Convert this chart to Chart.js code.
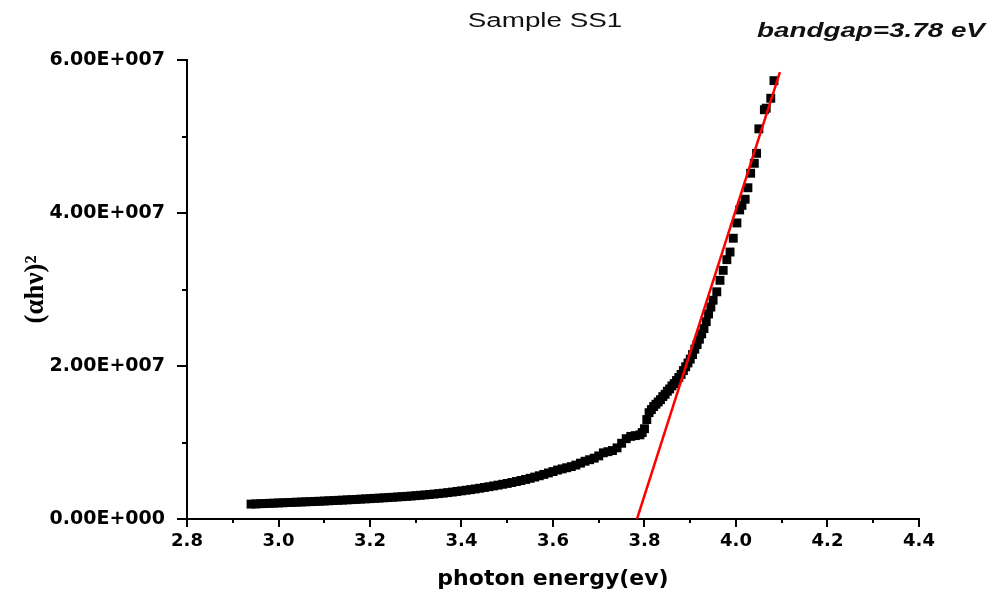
<!DOCTYPE html>
<html><head><meta charset="utf-8">
<script src="https://cdn.jsdelivr.net/npm/chart.js@4.4.0/dist/chart.umd.min.js"></script>
<style>html,body{margin:0;padding:0;background:#fff;}</style>
</head><body>
<canvas id="c" width="995" height="596"></canvas>
<script>
// ---- data ----
const energy = [
  2.94,2.95,2.96,2.97,2.98,2.99,3.00,3.01,3.02,3.03,3.04,3.05,3.06,3.07,3.08,3.09,
  3.10,3.11,3.12,3.13,3.14,3.15,3.16,3.17,3.18,3.19,3.20,3.21,3.22,3.23,3.24,3.25,
  3.26,3.27,3.28,3.29,3.30,3.31,3.32,3.33,3.34,3.35,3.36,3.37,3.38,3.39,3.40,3.41,
  3.42,3.43,3.44,3.45,3.46,3.47,3.48,3.49,3.50,3.51,3.52,3.53,3.54,3.55,3.56,3.57,
  3.58,3.59,3.60,3.61,3.62,3.63,3.64,3.65,3.66,3.67,3.68,3.69,3.70,3.71,3.72,3.73,
  3.74,3.75,3.76,3.77,3.78,3.79,3.795,3.80,3.805,3.81,3.815,3.82,3.825,3.83,3.835,
  3.84,3.845,3.85,3.855,3.86,3.865,3.87,3.875,3.88,3.885,3.89,3.895,3.90,3.905,
  3.91,3.915,3.92,3.925,3.93,3.935,3.94,3.945,3.95,3.958,3.965,3.972,3.98,3.987,
  3.994,4.002,4.008,4.013,4.02,4.026,4.032,4.04,4.045,4.05,4.062,4.066,4.076,4.083
];
const alphaHv2 = [
  1.95e6,1.97e6,2.00e6,2.02e6,2.05e6,2.07e6,2.10e6,2.12e6,2.15e6,2.17e6,2.20e6,2.22e6,2.25e6,2.27e6,2.30e6,2.32e6,
  2.35e6,2.38e6,2.41e6,2.44e6,2.47e6,2.50e6,2.53e6,2.56e6,2.60e6,2.63e6,2.66e6,2.70e6,2.73e6,2.77e6,2.80e6,2.84e6,
  2.88e6,2.92e6,2.96e6,3.00e6,3.05e6,3.10e6,3.15e6,3.20e6,3.26e6,3.32e6,3.38e6,3.45e6,3.52e6,3.60e6,3.68e6,3.76e6,
  3.84e6,3.93e6,4.02e6,4.12e6,4.22e6,4.32e6,4.43e6,4.54e6,4.65e6,4.77e6,4.90e6,5.03e6,5.17e6,5.32e6,5.48e6,5.65e6,
  5.83e6,6.02e6,6.20e6,6.40e6,6.55e6,6.70e6,6.85e6,7.05e6,7.30e6,7.55e6,7.75e6,7.95e6,8.25e6,8.65e6,8.80e6,8.95e6,
  9.30e6,9.90e6,10.5e6,10.8e6,10.9e6,11.0e6,11.3e6,11.8e6,13.0e6,13.9e6,14.3e6,14.7e6,15.0e6,15.3e6,15.6e6,
  16.0e6,16.3e6,16.7e6,17.0e6,17.4e6,17.7e6,18.1e6,18.5e6,18.9e6,19.4e6,19.9e6,20.4e6,20.9e6,21.5e6,
  22.2e6,22.8e6,23.5e6,24.2e6,24.9e6,25.8e6,26.8e6,27.7e6,28.6e6,29.7e6,31.2e6,32.5e6,33.9e6,34.9e6,
  36.7e6,38.7e6,40.4e6,41.0e6,41.8e6,43.3e6,45.2e6,46.5e6,47.8e6,51.0e6,53.5e6,53.7e6,55.0e6,57.3e6
];
const fitEnergy = [3.7836, 4.096];
const fitValue  = [0, 5.84e7];

const xTicks      = [2.8, 3.0, 3.2, 3.4, 3.6, 3.8, 4.0, 4.2, 4.4];
const xTickLabels = ['2.8','3.0','3.2','3.4','3.6','3.8','4.0','4.2','4.4'];
const xMinorTicks = [2.9, 3.1, 3.3, 3.5, 3.7, 3.9, 4.1, 4.3];
const yTicks      = [0, 2e7, 4e7, 6e7];
const yTickLabels = ['0.00E+000','2.00E+007','4.00E+007','6.00E+007'];
const yMinorTicks = [1e7, 3e7, 5e7];

const chartTitle = 'Sample SS1';
const gapNote    = 'bandgap=3.78 eV';
const xTitle     = 'photon energy(ev)';
const yTitle     = '(\u03B1h\u03BD)\u00B2';

// ---- chart ----
const points = energy.map((e, i) => ({x: e, y: alphaHv2[i]}));
const fitLine = fitEnergy.map((e, i) => ({x: e, y: fitValue[i]}));

const tickPlugin = {
  id: 'axisTicks',
  afterDraw(chart) {
    const {ctx, chartArea, scales: {x, y}} = chart;
    ctx.save();
    ctx.strokeStyle = '#000';
    ctx.lineWidth = 2;
    ctx.beginPath();
    xTicks.forEach(v => { const p = Math.round(x.getPixelForValue(v)); ctx.moveTo(p, chartArea.bottom); ctx.lineTo(p, chartArea.bottom + 8); });
    xMinorTicks.forEach(v => { const p = Math.round(x.getPixelForValue(v)); ctx.moveTo(p, chartArea.bottom); ctx.lineTo(p, chartArea.bottom + 4); });
    yTicks.forEach(v => { const p = Math.round(y.getPixelForValue(v)); ctx.moveTo(chartArea.left - 10, p); ctx.lineTo(chartArea.left, p); });
    yMinorTicks.forEach(v => { const p = Math.round(y.getPixelForValue(v)); ctx.moveTo(chartArea.left - 5, p); ctx.lineTo(chartArea.left, p); });
    ctx.stroke();

    // titles (horizontally stretched like the original export)
    const stretch = 1.39;
    ctx.fillStyle = '#111';
    ctx.textBaseline = 'alphabetic';
    ctx.font = '20px "Liberation Sans", Arial, sans-serif';
    let w = ctx.measureText(chartTitle).width;
    ctx.save();
    ctx.translate(545, 27);
    ctx.scale(stretch, 1);
    ctx.fillText(chartTitle, -w / 2, 0);
    ctx.restore();

    ctx.font = 'italic bold 20px "Liberation Sans", Arial, sans-serif';
    ctx.save();
    ctx.translate(757, 37);
    ctx.scale(stretch, 1);
    ctx.fillText(gapNote, 0, 0);
    ctx.restore();
    ctx.restore();
  }
};

new Chart(document.getElementById('c'), {
  type: 'scatter',
  data: {
    datasets: [
      {
        label: 'fit',
        data: fitLine,
        showLine: true,
        borderColor: '#ff0000',
        borderWidth: 2.5,
        pointRadius: 0,
        fill: false,
        order: 0
      },
      {
        label: 'Sample SS1',
        data: points,
        pointStyle: 'rect',
        pointRadius: 6.3,
        pointBackgroundColor: '#000',
        pointBorderWidth: 0,
        showLine: false,
        order: 1
      }
    ]
  },
  options: {
    responsive: false,
    animation: false,
    devicePixelRatio: 1,
    layout: { padding: { top: 60, right: 76, left: 0, bottom: 0 } },
    plugins: { legend: { display: false }, tooltip: { enabled: false }, title: { display: false } },
    scales: {
      x: {
        type: 'linear',
        min: 2.8, max: 4.4,
        afterBuildTicks: s => { s.ticks = xTicks.map(v => ({value: v})); },
        afterFit: s => { s.height = 77; },
        grid: { display: false, drawTicks: false },
        border: { display: true, color: '#000', width: 2 },
        ticks: {
          padding: 12,
          color: '#000',
          font: { family: '"DejaVu Sans", sans-serif', weight: 'bold', size: 18 },
          maxRotation: 0,
          callback: v => xTickLabels[xTicks.findIndex(t => Math.abs(t - v) < 1e-9)]
        },
        title: {
          display: true, text: xTitle, color: '#000',
          font: { family: '"DejaVu Sans", sans-serif', weight: 'bold', size: 22 },
          padding: { top: 0, bottom: 4 }
        }
      },
      y: {
        type: 'linear',
        min: 0, max: 6e7,
        afterBuildTicks: s => { s.ticks = yTicks.map(v => ({value: v})); },
        afterFit: s => { s.width = 187; },
        grid: { display: false, drawTicks: false },
        border: { display: true, color: '#000', width: 2 },
        ticks: {
          padding: 22,
          color: '#000',
          font: { family: '"DejaVu Sans", sans-serif', weight: 'bold', size: 19 },
          callback: v => yTickLabels[yTicks.findIndex(t => Math.abs(t - v) < 1)]
        },
        title: {
          display: true, text: yTitle, color: '#000',
          font: { family: '"Liberation Serif", serif', weight: 'bold', size: 27 },
          padding: { top: 20, bottom: 0 }
        }
      }
    }
  },
  plugins: [tickPlugin]
});
</script>
</body></html>
